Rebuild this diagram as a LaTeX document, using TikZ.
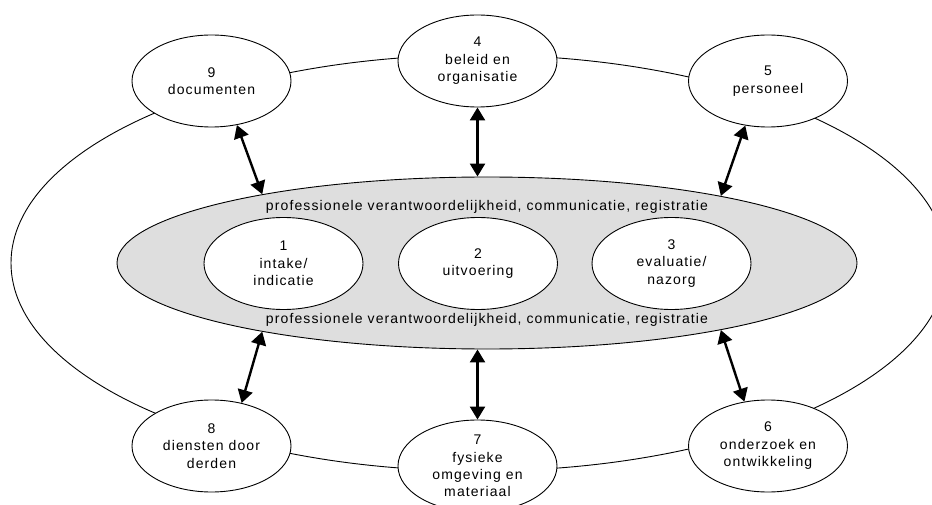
\documentclass[tikz,border=0pt]{standalone}
\usepackage{fontspec}
\setmainfont{Liberation Sans}[LetterSpace=8]
\usetikzlibrary{shapes.geometric,arrows.meta}
\definecolor{coregray}{gray}{0.87}
\begin{document}
\begin{tikzpicture}[x=1pt,y=-1pt,
  every node/.style={font=\fontsize{14}{17.5}\selectfont},
  unit/.style={ellipse,draw=black,fill=white,line width=0.9pt,
    minimum width=159pt,minimum height=92pt,inner sep=0pt},
  lbl/.style={align=center,inner sep=0pt},
  link/.style={line width=2.4pt,
    {Triangle[length=13pt,width=15pt]}-{Triangle[length=13pt,width=15pt]}},
  ]
\useasboundingbox (0,0) rectangle (932,505);
\clip (0,0) rectangle (932,505);

% outer ring joining the surrounding domains
\node[ellipse,draw=black,line width=0.9pt,inner sep=0pt,
  minimum width=936pt,minimum height=416pt] (ring) at (479,263) {};

% central care process
\node[ellipse,draw=black,fill=coregray,line width=0.9pt,inner sep=0pt,
  minimum width=740pt,minimum height=172pt] (core) at (487,263) {};
\node[lbl,anchor=base] (ptop) at (487,211)
  {professionele verantwoordelijkheid, communicatie, registratie};
\node[lbl,anchor=base] (pbot) at (487,323)
  {professionele verantwoordelijkheid, communicatie, registratie};

\node[unit] (n1) at (283.5,263.5) {};
\node[unit] (n2) at (478,263.5) {};
\node[unit] (n3) at (671.5,263.5) {};
\node[lbl] (t1) at (n1) {1\\intake/\\indicatie};
\node[lbl] (t2) at (n2) {2\\uitvoering};
\node[lbl] (t3) at (n3) {3\\evaluatie/\\nazorg};

% surrounding domains
\node[unit] (n9) at (211.5,81) {};
\node[unit] (n4) at (477.5,61) {};
\node[unit] (n5) at (768,81) {};
\node[unit] (n8) at (211.5,446) {};
\node[unit] (n7) at (477.5,466) {};
\node[unit] (n6) at (768,446) {};
\node[lbl] (t9) at (n9) {9\\documenten};
\node[lbl] (t4) at (n4) {4\\beleid en\\organisatie};
\node[lbl] (t5) at (n5) {5\\personeel};
\node[lbl] (t8) at (n8) {8\\diensten door\\derden};
\node[lbl] (t7) at (n7) {7\\fysieke\\omgeving en\\materiaal};
\node[lbl] (t6) at (n6) {6\\onderzoek en\\ontwikkeling};

% two-way links between the domains and the process
\draw[link] (n9.-60) -- (core.163);
\draw[link] (n4.south) -- (n4.south |- core.north);
\draw[link] (n5.-117) -- (core.16);
\draw[link] (core.197) -- (n8.55);
\draw[link] (core.south -| n7.north) -- (n7.north);
\draw[link] (core.-16) -- (n6.118);
\end{tikzpicture}
\end{document}
